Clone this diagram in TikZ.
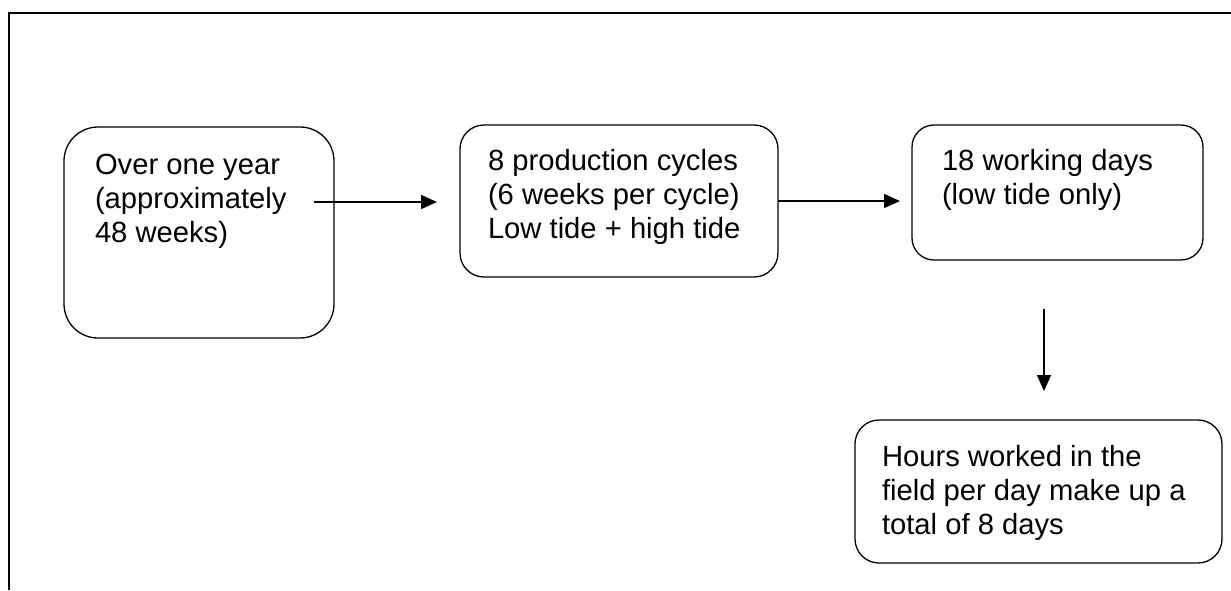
\documentclass[tikz,border=0pt]{standalone}
\usepackage{fontspec}
\setmainfont{Liberation Sans}
\usepackage{tikz}
\usetikzlibrary{arrows.meta, positioning}

\begin{document}
\begin{tikzpicture}[x=0.5pt, y=-0.5pt,
    box/.style={rectangle, draw, line width=0.65pt, outer sep=0pt, anchor=north west, align=left, font=\fontsize{14.6pt}{17pt}\selectfont},
    arrow/.style={-{Triangle[length=8pt, width=7pt]}, line width=0.85pt},
    frame/.style={line width=1pt}
]
\useasboundingbox (0,0) rectangle (1231,590);

% outer frame (top and left edges only)
\draw[frame] (8,13) -- (1231,13);
\draw[frame] (9,13) -- (9,590);

\node[box, rounded corners=17pt, inner xsep=15.5pt, inner ysep=11.6pt] (year) at (64,127)
    {\parbox[c][82.3pt][t]{104pt}{\strut Over one year\\(approximately\\48 weeks)}};
\node[box, rounded corners=12pt, inner xsep=14pt, inner ysep=10.6pt] (cycles) at (460,125)
    {\parbox[c][54.8pt][t]{131pt}{\strut 8 production cycles\\(6 weeks per cycle)\\Low tide + high tide}};
\node[box, rounded corners=11pt, inner xsep=15pt, inner ysep=10.6pt] (days) at (912,125)
    {\parbox[c][46.3pt][t]{115.5pt}{\strut 18 working days\\(low tide only)}};
\node[box, rounded corners=12pt, inner xsep=13.5pt, inner ysep=11.1pt] (hours) at (855,420)
    {\parbox[c][49.3pt][t]{156.5pt}{\strut Hours worked in the\\field per day make up a\\total of 8 days}};

\coordinate (yearout) at (314,202);
\coordinate (daysout) at (1044,309);

\draw[arrow, shorten >=11.5pt] (yearout) -- (yearout -| cycles.west);
\draw[arrow, shorten >=6pt] (cycles.east) -- (cycles.east -| days.west);
\draw[arrow, shorten >=14.5pt] (daysout) -- (daysout |- hours.north);

\end{tikzpicture}
\end{document}
